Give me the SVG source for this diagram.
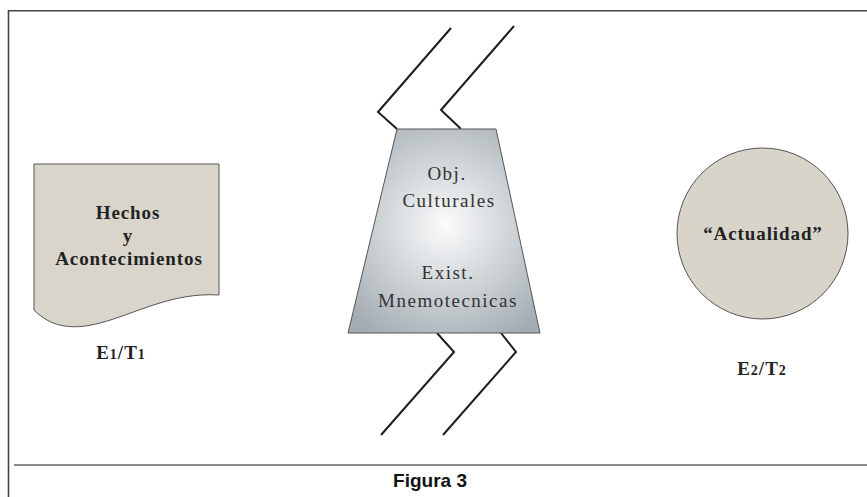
<svg xmlns="http://www.w3.org/2000/svg" width="867" height="497" viewBox="0 0 867 497">
<style>
.frame{fill:none;stroke:#444;stroke-width:1.6}
.rule{fill:none;stroke:#8a8a8a;stroke-width:1.8}
.zig{fill:none;stroke:#1e1e1e;stroke-width:2;stroke-linejoin:miter}
.shape{stroke:#555;stroke-width:1}
.bold{font-family:"Liberation Serif","DejaVu Serif",serif;font-weight:bold;font-size:19px;fill:#222;text-anchor:middle;letter-spacing:0.9px}
.reg{font-family:"Liberation Serif","DejaVu Serif",serif;font-size:19px;fill:#333;text-anchor:middle;letter-spacing:1.5px}
.cap{font-family:"Liberation Sans",Arial,sans-serif;font-weight:bold;font-size:19px;fill:#111;text-anchor:middle}
</style>
<defs>
<radialGradient id="g" cx="446" cy="225" r="130" gradientUnits="userSpaceOnUse">
<stop offset="0" stop-color="#fbfcfc"/>
<stop offset="1" stop-color="#a3acb2"/>
</radialGradient>
</defs>
<rect width="867" height="497" fill="#fff"/>
<g id="frame">
<path class="frame" d="M8.5,497 V10.8 H867"/>
<path class="rule" d="M14,465 H867"/>
<text class="cap" x="430" y="487">Figura 3</text>
</g>
<g id="connectors">
<path class="zig" d="M451,28 L378,112 L397,129"/>
<path class="zig" d="M514,26 L441,110 L461,129"/>
<path class="zig" d="M437,333 L454,352 L381,435"/>
<path class="zig" d="M501,333 L516,352 L443,435"/>
</g>
<g id="hechos">
<path class="shape" fill="#d9d5cb" d="M34,164 H219 V295 C172,292 135,314 100,323 C70,331 50,326 34,310 Z"/>
<text class="bold" x="128" y="219">Hechos</text>
<text class="bold" x="128" y="242">y</text>
<text class="bold" x="129" y="265">Acontecimientos</text>
</g>
<g id="e1t1">
<text class="bold" x="121" y="359" style="letter-spacing:1px">E<tspan font-size="14">1</tspan>/T<tspan font-size="14">1</tspan></text>
</g>
<g id="objetos">
<path class="shape" fill="url(#g)" d="M397,129 H496 L540,333 H348 Z"/>
<text class="reg" x="447" y="180">Obj.</text>
<text class="reg" x="449" y="207">Culturales</text>
<text class="reg" x="448" y="279">Exist.</text>
<text class="reg" x="448" y="307">Mnemotecnicas</text>
</g>
<g id="actualidad">
<circle class="shape" fill="#d8d4ca" cx="762.5" cy="233.5" r="85.5"/>
<text class="bold" x="763" y="240">“Actualidad”</text>
</g>
<g id="e2t2">
<text class="bold" x="762" y="375" style="letter-spacing:1px">E<tspan font-size="14">2</tspan>/T<tspan font-size="14">2</tspan></text>
</g>
</svg>
